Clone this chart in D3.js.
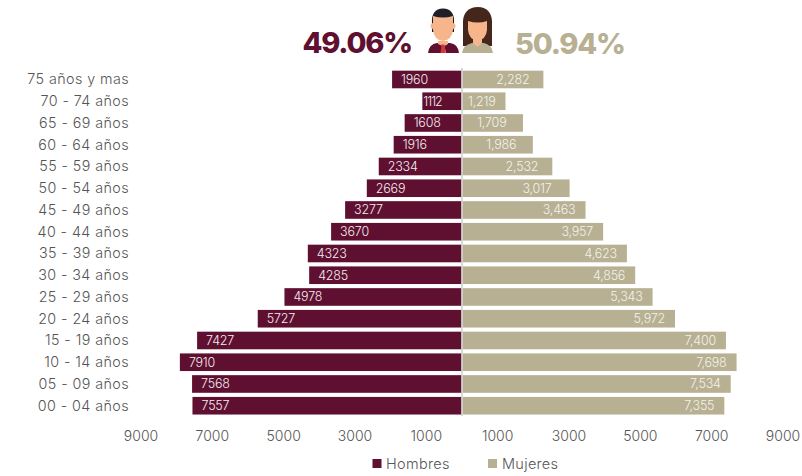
<!DOCTYPE html>
<html><head><meta charset="utf-8">
<script src="https://cdn.jsdelivr.net/npm/d3@7"></script>
<style>
html,body{margin:0;padding:0;background:#fff}
svg{display:block}
text{font-family:"Inter","Open Sans",sans-serif;font-weight:300}
</style></head><body>
<script>
const categories=["75 años y mas","70 - 74 años","65 - 69 años","60 - 64 años","55 - 59 años","50 - 54 años","45 - 49 años","40 - 44 años","35 - 39 años","30 - 34 años","25 - 29 años","20 - 24 años","15 - 19 años","10 - 14 años","05 - 09 años","00 - 04 años"];
const hombres=[1960,1112,1608,1916,2334,2669,3277,3670,4323,4285,4978,5727,7427,7910,7568,7557];
const mujeres=[2282,1219,1709,1986,2532,3017,3463,3957,4623,4856,5343,5972,7400,7698,7534,7355];
const ticks=[1000,3000,5000,7000,9000];
const pctHombres="49.06%", pctMujeres="50.94%";
const legendNames=["Hombres","Mujeres"];

const W=802,H=476,cx=462,maroon="#5f0f30",tan="#b7b092",ink="#555";
const svg=d3.select("body").append("svg").attr("width",W).attr("height",H);
const xL=d3.scaleLinear().domain([0,9000]).range([cx,cx-321]);
const xR=d3.scaleLinear().domain([0,9000]).range([cx,cx+321]);
const y=d3.scaleBand().domain(categories).range([68.6,416.6]).paddingInner(0.19).paddingOuter(0.095);
const insetR=v=>v<1500?10:v<2000?16.5:v<2600?14:v<3100?18:10;

svg.append("g").selectAll("rect").data(categories).join("rect")
 .attr("x",(d,i)=>xL(hombres[i])).attr("y",d=>y(d)).attr("width",(d,i)=>cx-xL(hombres[i])-.5).attr("height",y.bandwidth()).attr("fill",maroon);
svg.append("g").selectAll("rect").data(categories).join("rect")
 .attr("x",cx+.5).attr("y",d=>y(d)).attr("width",(d,i)=>xR(mujeres[i])-cx-.5).attr("height",y.bandwidth()).attr("fill",tan);
svg.append("line").attr("x1",cx).attr("x2",cx).attr("y1",68).attr("y2",416).attr("stroke","#ccc").attr("stroke-width",1.5);

svg.append("g").selectAll("text").data(categories).join("text")
 .attr("x",(d,i)=>xL(hombres[i])+(hombres[i]<1500?1:9)).attr("y",d=>y(d)+y.bandwidth()/2+4.5)
 .attr("fill","#f4eef0").attr("font-size",12.5).style("letter-spacing",(d,i)=>hombres[i]<1500?"-1px":"-.2px").text((d,i)=>hombres[i]);
svg.append("g").selectAll("text").data(categories).join("text")
 .attr("x",(d,i)=>xR(mujeres[i])-insetR(mujeres[i])).attr("y",d=>y(d)+y.bandwidth()/2+4.5).attr("text-anchor","end")
 .attr("fill","#f4f2ea").attr("font-size",12.5).style("letter-spacing","-.2px").text((d,i)=>d3.format(",")(mujeres[i]));

svg.append("g").selectAll("text").data(categories).join("text")
 .attr("x",129).attr("y",d=>y(d)+y.bandwidth()/2+5).attr("text-anchor","end")
 .attr("fill",ink).attr("font-size",14.3).style("letter-spacing",".42px").text(d=>d);

const axisY=441;
[[xL],[xR]].forEach(([s])=>{
 svg.append("g").selectAll("text").data(ticks).join("text")
  .attr("x",d=>s(d)).attr("y",axisY).attr("text-anchor","middle").attr("fill",ink).attr("font-size",14).text(d=>d);
});

svg.append("text").attr("x",412).attr("y",53).attr("text-anchor","end").attr("fill",maroon)
 .style("font-weight",800).style("letter-spacing","-1.2px").attr("font-size",29).text(pctHombres);
svg.append("text").attr("x",515).attr("y",54).attr("fill",tan)
 .style("font-weight",800).style("letter-spacing","-1.2px").attr("font-size",29).text(pctMujeres);

// legend
const lg=svg.append("g");
[[372.5,386,maroon],[488,502,tan]].forEach(([a,b,c],i)=>{
 lg.append("rect").attr("x",a).attr("y",459).attr("width",9).attr("height",9).attr("fill",c);
 lg.append("text").attr("x",b).attr("y",469).attr("fill",ink).attr("font-size",14.5).style("letter-spacing",".3px").text(legendNames[i]);
});

// man icon
const m=svg.append("g");
m.append("path").attr("d","M428 53 Q429 44 437 43 L450 43 Q458 44 459 53 Z").attr("fill",maroon);
m.append("path").attr("d","M438 41 L448 41 L448 44 L444.5 46 L446 53 L441 53 L442.5 46 L438 44 Z").attr("fill","#f7b58c");
m.append("path").attr("d","M441.5 44.5 L444.5 44.5 L445.5 53 L440.5 53 Z").attr("fill","#d6333a");
m.append("path").attr("d","M432 23 Q431 9 443 8.500 Q455 9 454 23 L454 32 L432 32 Z").attr("fill","#1f2027");
m.append("rect").attr("x",430.500).attr("y",23).attr("width",25).attr("height",6).attr("rx",3).attr("fill","#f7b58c");
m.append("path").attr("d","M433 16 Q443 19 453 16 L453 30 Q452 40 443 41 Q434 40 433 30 Z").attr("fill","#f7b58c");
// woman icon
const f=svg.append("g");
f.append("path").attr("d","M463 46 L463 21 Q464 7.500 478 7 Q491 7.500 492 21 L492 46 Z").attr("fill","#45261a");
f.append("path").attr("d","M462 53 Q463 45 472 43 L484 43 Q492 45 493 53 Z").attr("fill",tan);
f.append("path").attr("d","M473 37 L482 37 L482 43 L477.500 47 L473 43 Z").attr("fill","#f7b58c");
f.append("path").attr("d","M468 21 Q478 24 487 21 L487 30 Q486 40 477.500 40 Q469 40 468 30 Z").attr("fill","#f7b58c");
</script>
</body></html>
